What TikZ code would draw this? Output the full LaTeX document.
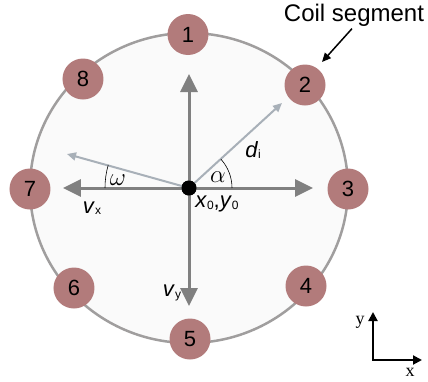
\documentclass[tikz,border=0pt]{standalone}
\usepackage{fontspec}
\setmainfont{Liberation Sans}
\newfontfamily\axfont{Liberation Serif}
\usetikzlibrary{arrows.meta}

\definecolor{segred}{RGB}{178,123,123}
\definecolor{discfill}{RGB}{250,250,250}
\definecolor{discline}{RGB}{160,158,158}
\definecolor{vecdark}{RGB}{128,128,128}
\definecolor{veclight}{RGB}{168,176,184}

\newcommand{\lowsub}[1]{\raisebox{-1.5pt}{\fontsize{12}{12}\selectfont #1}}

\begin{document}
\begin{tikzpicture}[x=1pt, y=1pt,
    seg/.style={circle, fill=segred, minimum size=41pt, inner sep=0pt, font=\fontsize{22}{22}\selectfont},
    dot/.style={circle, fill=black, minimum size=15pt, inner sep=0pt},
    vec/.style={draw=vecdark, line width=3pt, -{Triangle[length=18pt, width=17pt]}},
    vecl/.style={draw=veclight, line width=2pt, -{Triangle[length=9pt, width=8pt]}},
    lbl/.style={font=\fontsize{22}{22}\selectfont, inner sep=0pt},
    glbl/.style={font=\fontsize{27}{27}\selectfont, inner sep=0pt},
    ax/.style={line width=2pt, line join=miter, {Triangle[length=9pt, width=9pt]}-{Triangle[length=9pt, width=9pt]}},
    axlbl/.style={font=\axfont\fontsize{18}{18}\selectfont, inner sep=0pt}
]
\useasboundingbox (-189,-193) rectangle (239,188);

% disc
\draw[draw=discline, fill=discfill, line width=2.5pt] (0,0) ellipse [x radius=159pt, y radius=155pt];

% velocity and distance vectors
\node[dot] (ctr) at (0,0) {};
\coordinate (up) at (0,114);
\coordinate (rt) at (124,0);
\coordinate (lt) at (-126,0);
\coordinate (dn) at (0,-118);
\coordinate (dtip) at (93,85);
\coordinate (wtip) at (-122,34);
\draw[vec] (ctr.center) -- (up);
\draw[vec] (ctr.center) -- (rt);
\draw[vec] (ctr.center) -- (lt);
\draw[vec] (ctr.center) -- (dn);
\draw[vecl] (ctr.center) -- (dtip);
\draw[vecl] (ctr.center) -- (wtip);
\node[dot] (ctr) at (0,0) {};

% angles
\draw[line width=0.6pt] (43,0) arc[start angle=0, end angle=42, radius=43pt];
\draw[line width=0.6pt] (-84,0) arc[start angle=180, end angle=164, radius=84pt];

% coil segments
\node[seg] (s1) at (-1,153.5) {1};
\node[seg] (s2) at (116,103) {2};
\node[seg] (s3) at (159,-1) {3};
\node[seg] (s4) at (117,-98) {4};
\node[seg] (s5) at (1,-151) {5};
\node[seg] (s6) at (-115,-100) {6};
\node[seg] (s7) at (-159,-1) {7};
\node[seg] (s8) at (-106,109) {8};

% labels
\node[lbl] (dlbl) at (64,38) {\textit{d}\lowsub{i}};
\node[glbl] (albl) at (29,11) {$\alpha$};
\node[glbl] (wlbl) at (-71,8) {$\omega$};
\node[lbl] (vxlbl) at (-97,-20) {\textit{v}\lowsub{x}};
\node[lbl] (vylbl) at (-17,-105) {\textit{v}\lowsub{y}};
\node[lbl] (olbl) at (28,-16) {\textit{x}\lowsub{0},\textit{y}\lowsub{0}};

% coil segment pointer
\node[font=\fontsize{24}{24}\selectfont, inner sep=0pt] (coil) at (165,173) {Coil segment};
\coordinate (coiltip) at (133,126);
\draw[line width=1.5pt, -{Triangle[length=9pt, width=8pt]}, shorten <=3pt] (coil.south) -- (coiltip);

% axes
\coordinate (org) at (184,-172);
\coordinate (ytip) at (184,-124);
\coordinate (xtip) at (233,-172);
\draw[ax] (ytip) -- (org) -- (xtip);
\node[axlbl] (ylbl) at (171,-134) {y};
\node[axlbl] (xlbl) at (221,-184) {x};
\end{tikzpicture}
\end{document}
